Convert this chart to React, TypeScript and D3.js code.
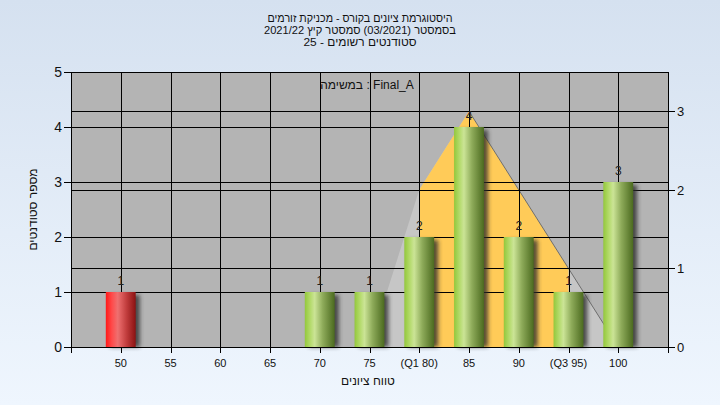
import React from "react";
import * as d3 from "d3";

// ---- data ----
const categories = [50, 55, 60, 65, 70, 75, 80, 85, 90, 95, 100];
const counts = [1, 0, 0, 0, 1, 1, 2, 4, 2, 1, 3];
const tickLabels = ["50", "55", "60", "65", "70", "75", "(Q1 80)", "85", "90", "(Q3 95)", "100"];
const passingGrade = 55;
const curveX = [75, 80, 85, 90, 95, 100];
const curveY = [0, 2, 3, 2, 1, 0];
const q1 = 80;
const q3 = 95;
const leftTicks = [0, 1, 2, 3, 4, 5];
const rightTicks = [0, 1, 2, 3];
const titleLines = [
  "היסטוגרמת ציונים בקורס - מכניקת זורמים",
  "בסמסטר  (03/2021)  סמסטר קיץ 2021/22",
  "סטודנטים רשומים - 25",
];
const taskLabel = "במשימה : Final_A";
const yTitle = "מספר סטודנטים";
const xTitle = "טווח ציונים";

const W = 720;
const H = 405;
const L = 71, R = 668, T = 72, B = 347;
const titleWidths = [185, 192, 113];
const titleBaselines = [22, 34, 46];

export default function App() {
  const x = d3.scaleLinear().domain([45, 105]).range([L, R]);
  const yL = d3.scaleLinear().domain([0, 5]).range([B, T]);
  const yR = d3.scaleLinear().domain([0, 3.5]).range([B, T]);
  const xTicks = d3.range(45, 106, 5);
  const half = 1.5;

  const pts: [number, number][] = curveX.map((v, i) => [v, curveY[i]]);
  const area = d3
    .area<[number, number]>()
    .x((d) => x(d[0]))
    .y0(B)
    .y1((d) => yR(d[1]));
  const peakIdx = curveY.indexOf(d3.max(curveY) as number);
  const line = d3
    .line<[number, number]>()
    .x((d) => x(d[0]))
    .y((d) => yR(d[1]));

  const font = "'Liberation Sans', 'DejaVu Sans', Arial, sans-serif";

  return (
    <div style={{ position: "absolute", left: 0, top: 0 }}>
      <svg width={W} height={H} style={{ display: "block" }} fontFamily={font}>
        <defs>
          <linearGradient id="bg" x1="0" y1="0" x2="0" y2="1">
            <stop offset="0%" stopColor="#d5e1f0" />
            <stop offset="100%" stopColor="#eff6fe" />
          </linearGradient>
          <linearGradient id="green" x1="0" y1="0" x2="1" y2="0">
            <stop offset="0%" stopColor="#93c83c" />
            <stop offset="18%" stopColor="#b3da6a" />
            <stop offset="33%" stopColor="#cbe496" />
            <stop offset="60%" stopColor="#8eab5a" />
            <stop offset="100%" stopColor="#4b6a1f" />
          </linearGradient>
          <linearGradient id="red" x1="0" y1="0" x2="1" y2="0">
            <stop offset="0%" stopColor="#ff1818" />
            <stop offset="20%" stopColor="#ff4a4a" />
            <stop offset="40%" stopColor="#ee7070" />
            <stop offset="70%" stopColor="#c03c3c" />
            <stop offset="100%" stopColor="#8a1212" />
          </linearGradient>
          <filter id="blur" x="-50%" y="-10%" width="200%" height="130%">
            <feGaussianBlur stdDeviation="2" />
          </filter>
          <clipPath id="iqr">
            <rect x={x(q1)} y={T} width={x(q3) - x(q1)} height={B - T} />
          </clipPath>
          <clipPath id="plot">
            <rect x={L} y={T} width={R - L} height={B - T} />
          </clipPath>
        </defs>

        <rect x={0} y={0} width={W} height={H} fill="url(#bg)" />

        {/* title */}
        {titleLines.map((t, i) => (
          <text
            key={i}
            x={360}
            y={titleBaselines[i]}
            textAnchor="middle"
            direction="rtl"
            fontSize={11}
            fill="#111"
            textLength={titleWidths[i]}
            lengthAdjust="spacingAndGlyphs"
          >
            {t}
          </text>
        ))}

        {/* plot background */}
        <rect x={L} y={T} width={R - L} height={B - T} fill="#b4b4b4" />

        {/* distribution polygon */}
        <g clipPath="url(#plot)">
          <path d={area(pts) as string} fill="#c6c6c6" />
          <path d={area(pts) as string} fill="#ffcb58" clipPath="url(#iqr)" />
          <path
            d={line(pts.slice(peakIdx)) as string}
            fill="none"
            stroke="#6e6e6e"
            strokeWidth={1}
          />
        </g>

        {/* grid lines */}
        {leftTicks.map((t) => (
          <line key={"gl" + t} x1={L} x2={R} y1={Math.round(yL(t)) + 0.5} y2={Math.round(yL(t)) + 0.5} stroke="#000" />
        ))}
        {rightTicks.map((t) => (
          <line key={"gr" + t} x1={L} x2={R} y1={Math.round(yR(t)) + 0.5} y2={Math.round(yR(t)) + 0.5} stroke="#000" />
        ))}
        {xTicks.map((t) => (
          <line key={"gx" + t} x1={Math.round(x(t)) + 0.5} x2={Math.round(x(t)) + 0.5} y1={T} y2={B} stroke="#000" />
        ))}

        {/* bars */}
        {categories.map((c, i) =>
          counts[i] > 0 ? (
            <g key={"b" + c}>
              <rect
                x={x(c - half) + 4}
                y={yL(counts[i]) + 3}
                width={x(c + half) - x(c - half)}
                height={B - yL(counts[i]) - 3}
                fill="#2a2a2a"
                opacity={0.8}
                filter="url(#blur)"
              />
              <rect
                x={x(c - half)}
                y={yL(counts[i])}
                width={x(c + half) - x(c - half)}
                height={B - yL(counts[i])}
                fill={c < passingGrade ? "url(#red)" : "url(#green)"}
              />
              <text
                x={x(c)}
                y={yL(counts[i]) - 7}
                textAnchor="middle"
                fontSize={12}
                fill="#222"
              >
                {counts[i]}
              </text>
            </g>
          ) : null
        )}

        {/* plot frame */}
        <rect x={L + 0.5} y={T + 0.5} width={R - L} height={B - T} fill="none" stroke="#000" />

        {/* left axis */}
        {leftTicks.map((t) => (
          <g key={"lt" + t}>
            <line x1={L - 7} x2={L} y1={Math.round(yL(t)) + 0.5} y2={Math.round(yL(t)) + 0.5} stroke="#000" />
            <text x={L - 9} y={yL(t) + 5} textAnchor="end" fontSize={14} fill="#111">
              {t}
            </text>
          </g>
        ))}
        {/* right axis */}
        {rightTicks.map((t) => (
          <g key={"rt" + t}>
            <line x1={R} x2={R + 7} y1={Math.round(yR(t)) + 0.5} y2={Math.round(yR(t)) + 0.5} stroke="#000" />
            <text x={R + 9} y={yR(t) + 5} textAnchor="start" fontSize={13} fill="#111">
              {t}
            </text>
          </g>
        ))}
        {/* x axis */}
        {xTicks.map((t) => (
          <line key={"xt" + t} x1={Math.round(x(t)) + 0.5} x2={Math.round(x(t)) + 0.5} y1={B} y2={B + 6} stroke="#000" />
        ))}
        {categories.map((c, i) => (
          <text key={"xl" + c} x={x(c)} y={B + 20} textAnchor="middle" fontSize={11} fill="#111">
            {tickLabels[i]}
          </text>
        ))}

        {/* axis titles */}
        <text x={368} y={385} textAnchor="middle" fontSize={12} fill="#111">
          {xTitle}
        </text>
        <text
          transform={`translate(37, ${(T + B) / 2}) rotate(-90)`}
          textAnchor="middle"
          fontSize={12}
          fill="#111"
        >
          {yTitle}
        </text>

        {/* task label */}
        <text x={367} y={89} textAnchor="middle" fontSize={12} fill="#111">
          {taskLabel}
        </text>
      </svg>
    </div>
  );
}
